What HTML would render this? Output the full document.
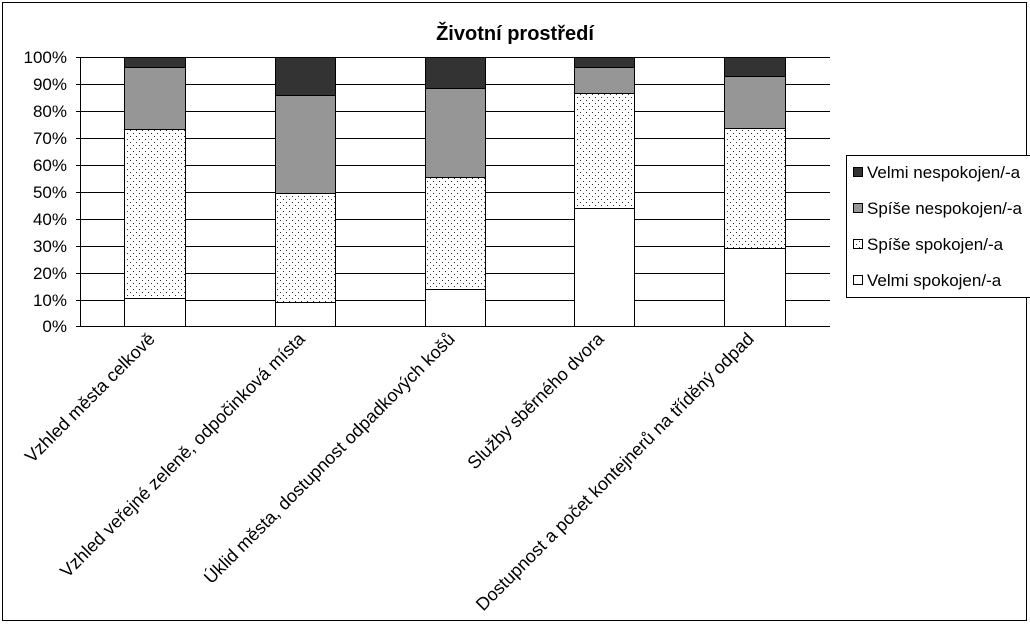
<!DOCTYPE html>
<html><head><style>body{margin:0;background:#fff}</style></head><body>
<svg width="1030" height="627" xmlns="http://www.w3.org/2000/svg" font-family="Liberation Sans, Arial, sans-serif">
<defs>
<pattern id="dots" width="6" height="6" patternUnits="userSpaceOnUse">
<rect width="6" height="6" fill="#fff"/><rect x="1" y="1" width="1" height="1" fill="#333"/><rect x="4" y="4" width="1" height="1" fill="#333"/>
</pattern>
</defs>
<rect x="2.5" y="2.5" width="1024" height="618" fill="#fff" stroke="#000"/>
<text x="515" y="40" font-size="20" font-weight="bold" text-anchor="middle">Životní prostředí</text>
<g stroke="#000" stroke-width="1">
<line x1="76" y1="57.5" x2="830" y2="57.5"/>
<line x1="76" y1="84.5" x2="830" y2="84.5"/>
<line x1="76" y1="111.5" x2="830" y2="111.5"/>
<line x1="76" y1="138.5" x2="830" y2="138.5"/>
<line x1="76" y1="165.5" x2="830" y2="165.5"/>
<line x1="76" y1="192.5" x2="830" y2="192.5"/>
<line x1="76" y1="219.5" x2="830" y2="219.5"/>
<line x1="76" y1="246.5" x2="830" y2="246.5"/>
<line x1="76" y1="273.5" x2="830" y2="273.5"/>
<line x1="76" y1="300.5" x2="830" y2="300.5"/>
<line x1="76" y1="326.5" x2="830" y2="326.5"/>
<line x1="80.5" y1="57" x2="80.5" y2="327"/>
</g>
<g font-size="17" fill="#000" text-anchor="end">
<text x="67" y="63">100%</text><text x="67" y="90">90%</text><text x="67" y="117">80%</text><text x="67" y="144">70%</text><text x="67" y="171">60%</text><text x="67" y="198">50%</text><text x="67" y="225">40%</text><text x="67" y="252">30%</text><text x="67" y="279">20%</text><text x="67" y="306">10%</text><text x="67" y="332">0%</text>
</g>
<g stroke="#000" stroke-width="1">
<rect x="124.5" y="298.5" width="61" height="28" fill="#fff"/>
<rect x="124.5" y="129.5" width="61" height="169" fill="url(#dots)"/>
<rect x="124.5" y="67.5" width="61" height="62" fill="#969696"/>
<rect x="124.5" y="57.5" width="61" height="10" fill="#333"/>
<rect x="275.5" y="302.5" width="60" height="24" fill="#fff"/>
<rect x="275.5" y="193.5" width="60" height="109" fill="url(#dots)"/>
<rect x="275.5" y="95.5" width="60" height="98" fill="#969696"/>
<rect x="275.5" y="57.5" width="60" height="38" fill="#333"/>
<rect x="425.5" y="289.5" width="60" height="37" fill="#fff"/>
<rect x="425.5" y="177.5" width="60" height="112" fill="url(#dots)"/>
<rect x="425.5" y="88.5" width="60" height="89" fill="#969696"/>
<rect x="425.5" y="57.5" width="60" height="31" fill="#333"/>
<rect x="574.5" y="208.5" width="60" height="118" fill="#fff"/>
<rect x="574.5" y="93.5" width="60" height="115" fill="url(#dots)"/>
<rect x="574.5" y="67.5" width="60" height="26" fill="#969696"/>
<rect x="574.5" y="57.5" width="60" height="10" fill="#333"/>
<rect x="724.5" y="248.5" width="61" height="78" fill="#fff"/>
<rect x="724.5" y="128.5" width="61" height="120" fill="url(#dots)"/>
<rect x="724.5" y="76.5" width="61" height="52" fill="#969696"/>
<rect x="724.5" y="57.5" width="61" height="19" fill="#333"/>
</g>
<g font-size="18" text-anchor="end">
<text transform="translate(156,340) rotate(-45)">Vzhled města celkově</text>
<text transform="translate(306,340) rotate(-45)">Vzhled veřejné zeleně, odpočinková místa</text>
<text transform="translate(456,340) rotate(-45)">Úklid města, dostupnost odpadkových košů</text>
<text transform="translate(605,340) rotate(-45)">Služby sběrného dvora</text>
<text transform="translate(755,340) rotate(-45)">Dostupnost a počet kontejnerů na tříděný odpad</text>
</g>
<rect x="846.5" y="155.5" width="185" height="142" fill="#fff" stroke="#000"/>
<g stroke="#000" stroke-width="1">
<rect x="853.5" y="167.5" width="9" height="9" fill="#333"/>
<rect x="853.5" y="203.5" width="9" height="9" fill="#969696"/>
<rect x="853.5" y="239.5" width="9" height="9" fill="url(#dots)"/>
<rect x="853.5" y="275.5" width="9" height="9" fill="#fff"/>
</g>
<g font-size="17">
<text x="867" y="178">Velmi nespokojen/-a</text>
<text x="867" y="214">Spíše nespokojen/-a</text>
<text x="867" y="250">Spíše spokojen/-a</text>
<text x="867" y="286">Velmi spokojen/-a</text>
</g>
</svg>
</body></html>
